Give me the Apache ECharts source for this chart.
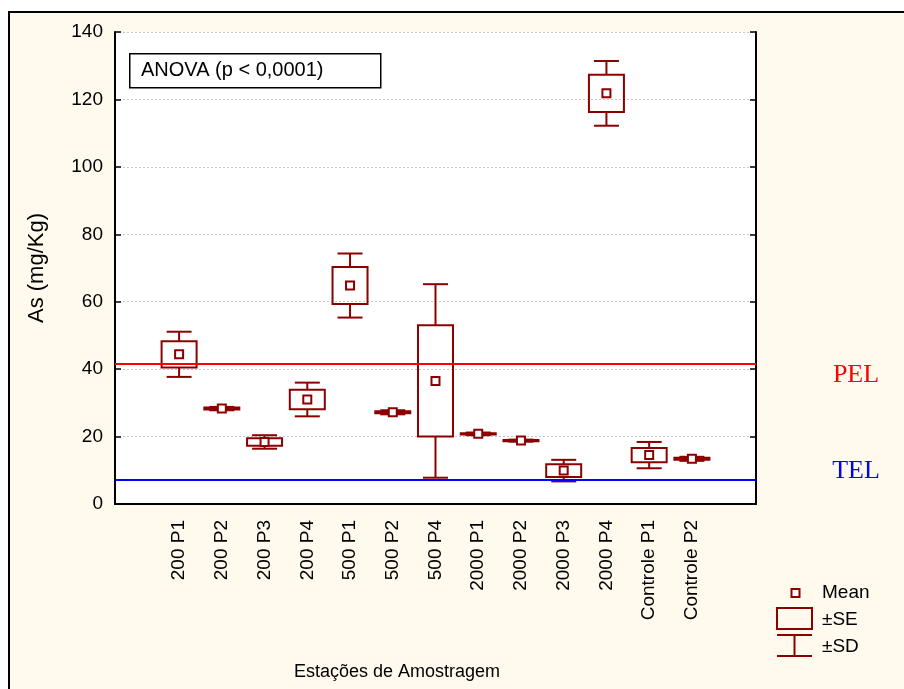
<!DOCTYPE html>
<html>
<head>
<meta charset="utf-8">
<title>As (mg/Kg) por estação</title>
<script src="https://cdn.jsdelivr.net/npm/echarts@6/dist/echarts.min.js"></script>
<style>
  html, body { margin: 0; padding: 0; background: #ffffff; }
  #frame {
    position: absolute; left: 8px; top: 11px; width: 910px; height: 700px;
    border: 2px solid #000; background: #fff9ee;
  }
  #chart { position: absolute; left: 0; top: 0; width: 904px; height: 689px; }
</style>
</head>
<body>
<div id="frame"></div>
<div id="chart"></div>
<script>
// Sampling stations (x axis)
const categories = ['200 P1', '200 P2', '200 P3', '200 P4', '500 P1', '500 P2', '500 P4',
  '2000 P1', '2000 P2', '2000 P3', '2000 P4', 'Controle P1', 'Controle P2'];
// Mean arsenic concentration per station (mg/Kg)
const means = [44.4, 28.3, 18.4, 31.0, 64.8, 27.2, 36.5, 20.8, 18.8, 9.9, 121.8, 14.5, 13.4];
// Standard error
const se = [3.9, 0.3, 1.1, 2.9, 5.5, 0.3, 16.5, 0.2, 0.2, 1.9, 5.5, 2.1, 0.3];
// Standard deviation
const sd = [6.7, 0.5, 2.0, 5.0, 9.5, 0.6, 28.7, 0.4, 0.3, 3.2, 9.6, 3.9, 0.6];
// Sediment quality guidelines
const PEL = 41.6;
const TEL = 7.24;
// Y axis ticks
const yTicks = { min: 0, max: 140, interval: 20 };

const DARK = '#8b0000';
// one empty slot at each end of the category axis
const slots = [''].concat(categories, ['']);
const boxData = categories.map((c, i) => [i + 1, means[i], se[i], sd[i]]);

const chart = echarts.init(document.getElementById('chart'));

function renderBox(params, api) {
  const x = api.value(0), m = api.value(1), s = api.value(2), d = api.value(3);
  const pMean = api.coord([x, m]);
  const pSeHi = api.coord([x, m + s]);
  const pSeLo = api.coord([x, m - s]);
  const pSdHi = api.coord([x, m + d]);
  const pSdLo = api.coord([x, m - d]);
  const cx = pMean[0];
  const bw = 35, cw = 25, mk = 8;
  const st = { stroke: DARK, lineWidth: 2, fill: null };
  return {
    type: 'group',
    children: [
      { type: 'line', shape: { x1: cx, y1: pSdHi[1], x2: cx, y2: pSeHi[1] }, style: st },
      { type: 'line', shape: { x1: cx, y1: pSeLo[1], x2: cx, y2: pSdLo[1] }, style: st },
      { type: 'line', shape: { x1: cx - cw / 2, y1: pSdHi[1], x2: cx + cw / 2, y2: pSdHi[1] }, style: st },
      { type: 'line', shape: { x1: cx - cw / 2, y1: pSdLo[1], x2: cx + cw / 2, y2: pSdLo[1] }, style: st },
      { type: 'rect', shape: { x: cx - bw / 2, y: pSeHi[1], width: bw, height: pSeLo[1] - pSeHi[1] },
        style: { stroke: DARK, lineWidth: 2, fill: 'rgba(255,255,255,0)' } },
      { type: 'rect', shape: { x: cx - mk / 2, y: pMean[1] - mk / 2, width: mk, height: mk },
        style: { stroke: DARK, lineWidth: 2, fill: '#ffffff' } }
    ]
  };
}

const xCommon = {
  type: 'category',
  data: slots,
  boundaryGap: true,
  axisLine: { lineStyle: { color: '#000', width: 2 } },
  axisTick: { alignWithLabel: true, inside: true, length: 6, lineStyle: { color: '#000', width: 1.5 } },
  splitLine: { show: false }
};
const yCommon = {
  type: 'value',
  min: yTicks.min, max: yTicks.max, interval: yTicks.interval,
  axisLine: { show: true, lineStyle: { color: '#000', width: 2 } },
  axisTick: { show: true, inside: true, length: 6, lineStyle: { color: '#000', width: 1.5 } }
};

chart.setOption({
  backgroundColor: 'transparent',
  animation: false,
  grid: { left: 115, top: 32, right: 148, bottom: 185, show: true, backgroundColor: '#ffffff', borderWidth: 0 },
  xAxis: [
    Object.assign({}, xCommon, {
      position: 'bottom',
      axisLabel: { rotate: 90, margin: 16, fontSize: 19, color: '#000', fontFamily: 'Liberation Sans, Arial, sans-serif' }
    }),
    Object.assign({}, xCommon, { position: 'top', axisLabel: { show: false } })
  ],
  yAxis: [
    Object.assign({}, yCommon, {
      position: 'left',
      name: 'As (mg/Kg)',
      nameLocation: 'middle',
      nameRotate: 90,
      nameGap: 67,
      nameTextStyle: { fontSize: 22, color: '#000', fontFamily: 'Liberation Sans, Arial, sans-serif' },
      axisLabel: { margin: 12, fontSize: 19, color: '#000', fontFamily: 'Liberation Sans, Arial, sans-serif' },
      splitLine: { show: true, lineStyle: { color: '#c8c8c8', type: [2, 2], width: 1 } }
    }),
    Object.assign({}, yCommon, { position: 'right', axisLabel: { show: false }, splitLine: { show: false } })
  ],
  series: [
    {
      type: 'custom',
      name: 'As',
      xAxisIndex: 0,
      yAxisIndex: 0,
      data: boxData,
      encode: { x: 0, y: [1] },
      renderItem: renderBox,
      z: 3,
      markLine: {
        silent: true,
        symbol: 'none',
        label: { show: false },
        z: 4,
        data: [
          { yAxis: PEL, lineStyle: { color: '#ff0000', width: 2, type: 'solid', opacity: 1 } },
          { yAxis: TEL, lineStyle: { color: '#0000ff', width: 2, type: 'solid', opacity: 1 } }
        ]
      }
    }
  ],
  graphic: [
    // ANOVA note
    { type: 'rect', left: 129, top: 53, shape: { width: 251, height: 34 },
      style: { fill: '#ffffff', stroke: '#000', lineWidth: 1.5 }, z: 10 },
    { type: 'text', x: 141, y: 70, z: 11,
      style: { text: 'ANOVA (p < 0,0001)', fontSize: 20, fill: '#000', verticalAlign: 'middle',
        fontFamily: 'Liberation Sans, Arial, sans-serif' } },
    // guideline labels
    { type: 'text', x: 856, y: 375, z: 10,
      style: { text: 'PEL', fontSize: 26, fill: '#ff0000', align: 'center', verticalAlign: 'middle',
        fontFamily: 'Liberation Serif, Times New Roman, serif' } },
    { type: 'text', x: 856, y: 471, z: 10,
      style: { text: 'TEL', fontSize: 26, fill: '#0000ff', align: 'center', verticalAlign: 'middle',
        fontFamily: 'Liberation Serif, Times New Roman, serif' } },
    // x axis title
    { type: 'text', x: 397, y: 672, z: 10,
      style: { text: 'Estações de Amostragem', fontSize: 18, fill: '#000', align: 'center', verticalAlign: 'middle',
        fontFamily: 'Liberation Sans, Arial, sans-serif' } },
    // key
    { type: 'rect', shape: { x: 791.5, y: 589, width: 8, height: 8 },
      style: { fill: '#fff', stroke: DARK, lineWidth: 2 }, z: 10 },
    { type: 'rect', shape: { x: 777, y: 608, width: 35, height: 21 },
      style: { fill: 'rgba(0,0,0,0)', stroke: DARK, lineWidth: 2 }, z: 10 },
    { type: 'line', shape: { x1: 777, y1: 635, x2: 812, y2: 635 }, style: { stroke: DARK, lineWidth: 2 }, z: 10 },
    { type: 'line', shape: { x1: 777, y1: 656, x2: 812, y2: 656 }, style: { stroke: DARK, lineWidth: 2 }, z: 10 },
    { type: 'line', shape: { x1: 794.5, y1: 635, x2: 794.5, y2: 656 }, style: { stroke: DARK, lineWidth: 2 }, z: 10 },
    { type: 'text', x: 822, y: 593, z: 10,
      style: { text: 'Mean', fontSize: 19, fill: '#000', verticalAlign: 'middle', fontFamily: 'Liberation Sans, Arial, sans-serif' } },
    { type: 'text', x: 822, y: 620, z: 10,
      style: { text: '±SE', fontSize: 19, fill: '#000', verticalAlign: 'middle', fontFamily: 'Liberation Sans, Arial, sans-serif' } },
    { type: 'text', x: 822, y: 647, z: 10,
      style: { text: '±SD', fontSize: 19, fill: '#000', verticalAlign: 'middle', fontFamily: 'Liberation Sans, Arial, sans-serif' } }
  ]
});
</script>
</body>
</html>
